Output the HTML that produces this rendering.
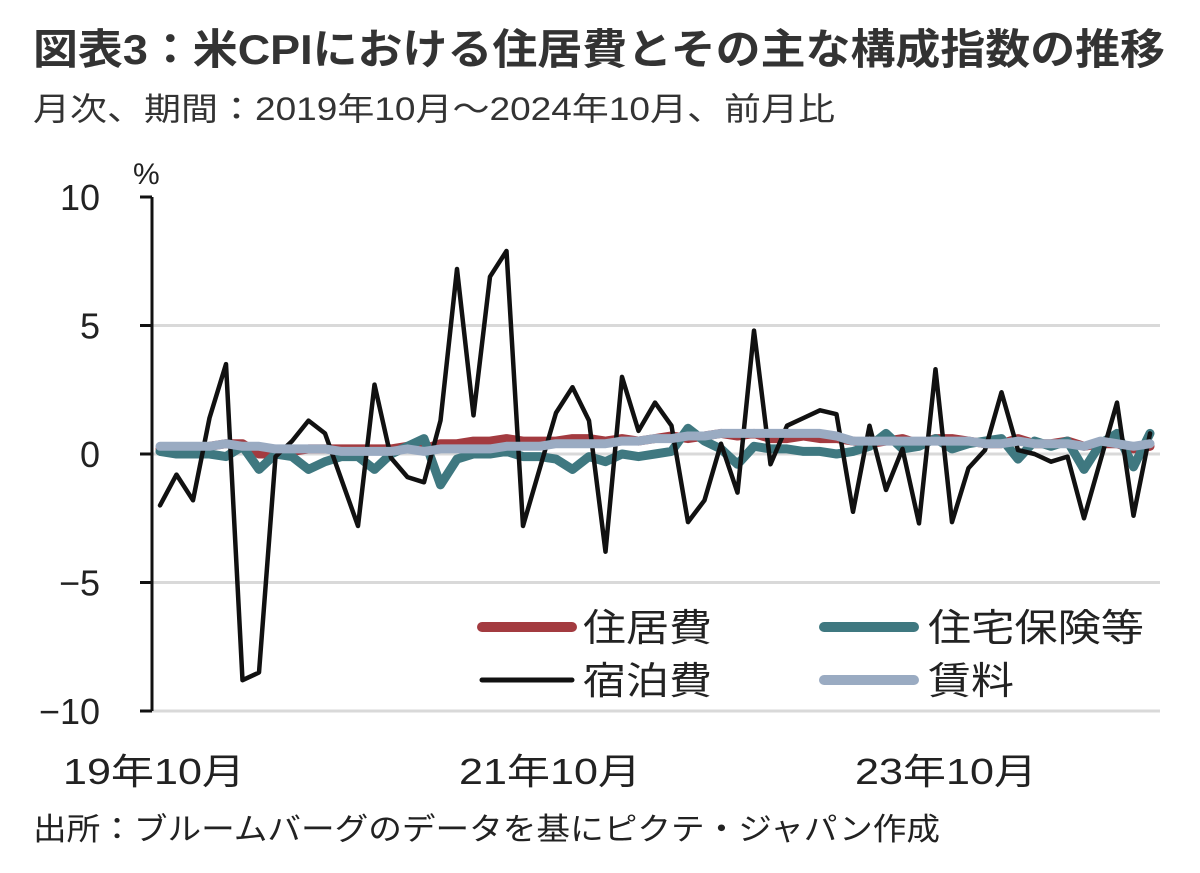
<!DOCTYPE html>
<html><head><meta charset="utf-8">
<style>
body{margin:0;background:#fff;width:1200px;height:873px;overflow:hidden;font-family:"Liberation Sans","Noto Sans CJK JP",sans-serif;}
svg{display:block}
</style></head>
<body>
<svg id="chart" width="1200" height="873" font-family="Liberation Sans, Noto Sans CJK JP, sans-serif">
<text x="33" y="64" font-size="42" font-weight="bold" fill="#333" textLength="1132" lengthAdjust="spacingAndGlyphs">図表3：米CPIにおける住居費とその主な構成指数の推移</text>
<text x="33" y="120" font-size="32" fill="#333" textLength="802" lengthAdjust="spacingAndGlyphs">月次、期間：2019年10月～2024年10月、前月比</text>
<text x="133" y="184" font-size="30" fill="#222">%</text>
<text x="33" y="840" font-size="31" fill="#222" textLength="907" lengthAdjust="spacingAndGlyphs">出所：ブルームバーグのデータを基にピクテ・ジャパン作成</text>
<g id="grid"></g><g id="series"></g><g id="axes"></g>
<g>
<line x1="482" y1="627" x2="572" y2="627" stroke="#a33b40" stroke-width="10" stroke-linecap="round"/>
<text x="583" y="641" font-size="38" fill="#222" textLength="129" lengthAdjust="spacingAndGlyphs">住居費</text>
<line x1="824" y1="627" x2="914" y2="627" stroke="#3f7880" stroke-width="10" stroke-linecap="round"/>
<text x="928" y="641" font-size="38" fill="#222" textLength="216" lengthAdjust="spacingAndGlyphs">住宅保険等</text>
<line x1="482" y1="680" x2="572" y2="680" stroke="#111" stroke-width="5" stroke-linecap="round"/>
<text x="583" y="694" font-size="38" fill="#222" textLength="129" lengthAdjust="spacingAndGlyphs">宿泊費</text>
<line x1="824" y1="680" x2="914" y2="680" stroke="#9aabc2" stroke-width="10" stroke-linecap="round"/>
<text x="928" y="694" font-size="38" fill="#222" textLength="86" lengthAdjust="spacingAndGlyphs">賃料</text>
</g>
</svg>
<script>
const yTicks=[10,5,0,-5,-10];
const yTickLabels=["10","5","0","\u22125","\u221210"];
const xTickIdx=[0,24,48];
const xTickLabels=["19年10月","21年10月","23年10月"];
const lodging=[-2.0,-0.8,-1.8,1.4,3.5,-8.8,-8.5,-0.1,0.5,1.3,0.8,-1.0,-2.8,2.7,-0.15,-0.9,-1.1,1.3,7.2,1.5,6.9,7.9,-2.8,-0.6,1.6,2.6,1.3,-3.8,3.0,0.9,2.0,1.1,-2.65,-1.8,0.4,-1.5,4.8,-0.4,1.1,1.4,1.7,1.55,-2.25,1.1,-1.4,0.2,-2.7,3.3,-2.65,-0.55,0.15,2.4,0.15,0.0,-0.3,-0.1,-2.5,-0.25,2.0,-2.4,0.8];
const rent=[0.3,0.3,0.3,0.3,0.4,0.3,0.3,0.2,0.2,0.2,0.2,0.1,0.1,0.1,0.1,0.2,0.1,0.2,0.2,0.2,0.2,0.3,0.3,0.3,0.4,0.4,0.4,0.4,0.5,0.5,0.6,0.6,0.7,0.7,0.8,0.8,0.8,0.8,0.8,0.8,0.8,0.7,0.5,0.5,0.5,0.5,0.5,0.5,0.5,0.5,0.4,0.4,0.5,0.4,0.4,0.4,0.3,0.5,0.4,0.3,0.4];
const shelter=[0.2,0.2,0.2,0.3,0.4,0.4,0.0,0.0,0.1,0.2,0.2,0.2,0.2,0.2,0.2,0.3,0.2,0.4,0.4,0.5,0.5,0.6,0.5,0.5,0.5,0.6,0.6,0.5,0.6,0.5,0.6,0.7,0.6,0.7,0.8,0.7,0.8,0.6,0.6,0.7,0.6,0.6,0.5,0.4,0.5,0.6,0.4,0.6,0.6,0.5,0.4,0.4,0.6,0.4,0.4,0.5,0.3,0.4,0.4,0.2,0.3];
const insurance=[0.1,0.0,0.0,0.0,-0.1,0.3,-0.6,0.0,-0.1,-0.6,-0.3,-0.1,-0.1,-0.6,0.0,0.3,0.6,-1.2,-0.2,0.0,0.0,0.1,-0.1,-0.1,-0.2,-0.6,-0.1,-0.3,0.0,-0.1,0.0,0.1,1.0,0.5,0.2,-0.4,0.3,0.2,0.2,0.1,0.1,0.0,0.1,0.3,0.8,0.2,0.3,0.6,0.2,0.4,0.5,0.6,-0.2,0.5,0.3,0.5,-0.6,0.4,0.8,-0.5,0.8];

const NS="http://www.w3.org/2000/svg";
const x=i=>160+i*16.5;
const y=v=>454-v*25.7;
function mk(tag,attrs,parent){const e=document.createElementNS(NS,tag);for(const k in attrs)e.setAttribute(k,attrs[k]);document.getElementById(parent).appendChild(e);return e;}
yTicks.forEach((t,k)=>{
  if(t!==10){const g=mk('line',{x1:152,x2:1160,y1:y(t),y2:y(t),stroke:'#d9d9d9','stroke-width':3},'grid');
  
  }
  const tk=mk('line',{x1:140,x2:152,y1:y(t),y2:y(t),stroke:'#111','stroke-width':3},'axes');
  
  
  const tl=mk('text',{x:100,y:y(t)+13,'font-size':36,'text-anchor':'end',fill:'#222'},'axes');
  tl.textContent=yTickLabels[k];
  
  
});
const ax=mk('line',{x1:152,x2:152,y1:y(10),y2:y(-10),stroke:'#111','stroke-width':3},'axes');


xTickIdx.forEach((idx,k)=>{
  const t=mk('text',{x:x(idx)-6,y:784,'font-size':36,'text-anchor':'middle',fill:'#222',textLength:182,lengthAdjust:'spacingAndGlyphs'},'axes');
  t.textContent=xTickLabels[k];
  
  
});
function line(data,color,w,name){
  const d=data.map((v,i)=>(i?'L':'M')+x(i).toFixed(1)+' '+y(v).toFixed(1)).join(' ');
  const p=mk('path',{d:d,fill:'none',stroke:color,'stroke-width':w,'stroke-linejoin':'round','stroke-linecap':'round'},'series');
  
  
}
line(shelter,'#a33b40',9,'shelter-line');
line(insurance,'#3f7880',9,'insurance-line');
line(lodging,'#111111',4.5,'lodging-line');
line(rent,'#9aabc2',9,'rent-line');
</script>
</body></html>
